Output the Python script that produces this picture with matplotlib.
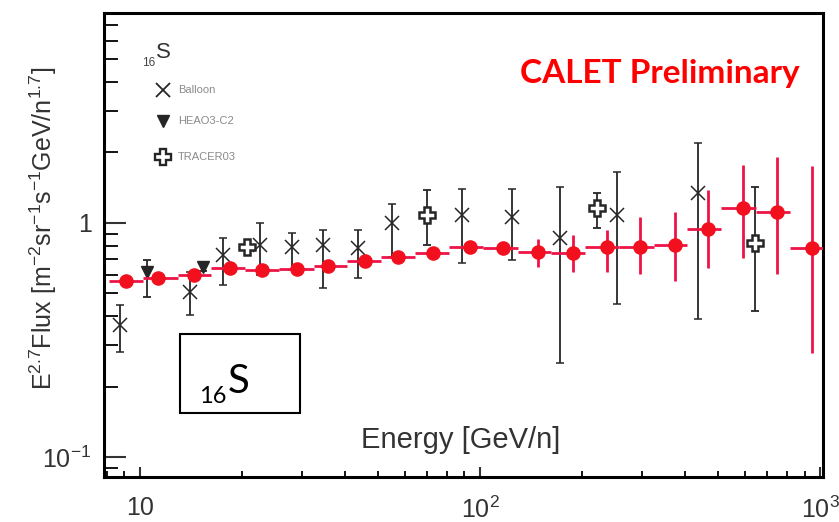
import numpy as np
import matplotlib
matplotlib.use("Agg")
import matplotlib.pyplot as plt
from matplotlib.patches import Rectangle
from matplotlib.ticker import FixedLocator, NullFormatter, LogLocator

plt.rcParams['font.family'] = ['Liberation Sans', 'DejaVu Sans']
plt.rcParams['mathtext.fontset'] = 'custom'
plt.rcParams['mathtext.rm'] = 'Liberation Sans'
plt.rcParams['mathtext.it'] = 'Liberation Sans:italic'
plt.rcParams['mathtext.bf'] = 'Liberation Sans:bold'

# ---- CALET sulfur (E^2.7 x flux), energy bins in GeV/n ----
calet_edges = [8.13, 10.2, 12.9, 16.2, 20.4, 25.7, 32.4, 40.7, 51.3, 64.6, 81.3,
               102, 129, 162, 204, 257, 324, 407, 513, 646, 813, 1023]
calet_e = [9.1, 11.3, 14.4, 18.4, 22.8, 29.0, 35.7, 45.9, 57.4, 72.6, 93.5,
           117, 148, 188, 236, 296, 374, 469, 592, 746, 948]
calet_f = [0.565, 0.582, 0.600, 0.642, 0.630, 0.636, 0.655, 0.688, 0.716, 0.744, 0.790,
           0.785, 0.752, 0.744, 0.790, 0.790, 0.805, 0.940, 1.160, 1.110, 0.780]
calet_lo = [0.545, 0.561, 0.579, 0.620, 0.608, 0.613, 0.630, 0.662, 0.686, 0.712, 0.752,
            0.745, 0.648, 0.617, 0.617, 0.605, 0.565, 0.642, 0.709, 0.605, 0.278]
calet_hi = [0.586, 0.604, 0.622, 0.665, 0.653, 0.660, 0.681, 0.716, 0.748, 0.778, 0.830,
            0.828, 0.855, 0.889, 0.934, 1.061, 1.114, 1.384, 1.770, 1.915, 1.752]

# ---- Balloon ----
balloon_e = [8.73, 14.0, 17.5, 22.5, 28.0, 34.5, 43.7, 55.1, 88.5, 124, 172, 253, 437]
balloon_f = [0.367, 0.507, 0.730, 0.805, 0.790, 0.805, 0.782, 1.000, 1.082, 1.061, 0.863, 1.082, 1.343]
balloon_lo = [0.281, 0.404, 0.543, 0.600, 0.630, 0.527, 0.580, 0.716, 0.675, 0.695, 0.252, 0.451, 0.389]
balloon_hi = [0.446, 0.617, 0.863, 1.000, 0.906, 0.934, 0.934, 1.206, 1.397, 1.397, 1.425, 1.650, 2.200]

# ---- HEAO3-C2 ----
heao_e = [10.5, 15.3]
heao_f = [0.617, 0.649]
heao_lo = [0.483, 0.625]
heao_hi = [0.695, 0.672]

# ---- TRACER ----
tracer_e = [20.7, 69.8, 221, 644]
tracer_f = [0.790, 1.082, 1.159, 0.821]
tracer_lo = [0.770, 0.805, 0.952, 0.421]
tracer_hi = [0.810, 1.383, 1.343, 1.425]

W, H = 839, 522
fig = plt.figure(figsize=(W / 100, H / 100), dpi=100)
fig.patch.set_facecolor('white')


def fx(px):
    return px / W


def fy(py):
    return 1 - py / H


ax = fig.add_axes([fx(104), fy(477), fx(823) - fx(104), fy(13) - fy(477)])
ax.set_xscale('log')
ax.set_yscale('log')
ax.set_xlim(7.84, 1020)
ax.set_ylim(0.0821, 7.89)

black = '#262626'


def asym(f, lo, hi):
    f, lo, hi = map(np.asarray, (f, lo, hi))
    return [f - lo, hi - f]


# other experiments
ax.errorbar(balloon_e, balloon_f, yerr=asym(balloon_f, balloon_lo, balloon_hi),
            fmt='x', color=black, ms=10, mew=1.1, elinewidth=1.3, capsize=3,
            capthick=1.3, zorder=2)
ax.errorbar(heao_e, heao_f, yerr=asym(heao_f, heao_lo, heao_hi),
            fmt='v', color=black, ms=8, elinewidth=1.3, capsize=3,
            capthick=1.3, zorder=2)
ax.errorbar(tracer_e, tracer_f, yerr=asym(tracer_f, tracer_lo, tracer_hi),
            fmt='none', ecolor=black, elinewidth=1.3, capsize=3,
            capthick=1.3, zorder=2)

# CALET
edges = np.asarray(calet_edges)
ce = np.asarray(calet_e)
xerr = [ce - edges[:-1], edges[1:] - ce]
ax.errorbar(calet_e, calet_f, xerr=xerr, yerr=asym(calet_f, calet_lo, calet_hi),
            fmt='o', color='#f2101e', ecolor='#ec1446', ms=10.5, mew=0,
            elinewidth=2.0, capsize=4.5, capthick=2.0, zorder=3)

ax.plot(tracer_e, tracer_f, 'P', ms=12, mfc='white', mec=black, mew=1.8,
        linestyle='none', zorder=4)

# axes styling
for s in ax.spines.values():
    s.set_linewidth(2.2)
    s.set_color('black')
ax.xaxis.set_major_locator(FixedLocator([10, 100, 1000]))
ax.xaxis.set_minor_locator(LogLocator(base=10, subs=np.arange(2, 10)))
ax.xaxis.set_minor_formatter(NullFormatter())
ax.set_xticklabels(['10', r'$10^{2}$', r'$10^{3}$'])
ax.yaxis.set_major_locator(FixedLocator([0.1, 1]))
ax.yaxis.set_minor_locator(LogLocator(base=10, subs=np.arange(2, 10)))
ax.yaxis.set_minor_formatter(NullFormatter())
ax.set_yticklabels([r'$10^{-1}$', '1'])
ax.tick_params(axis='x', which='major', direction='in', length=7, width=1.5,
               pad=14, labelsize=18, colors='#333333', top=False)
ax.tick_params(axis='x', which='minor', direction='in', length=4, width=1.3, top=False)
ax.tick_params(axis='y', which='major', direction='in', length=16, width=1.5,
               pad=9, labelsize=18, colors='#333333', right=False)
ax.tick_params(axis='y', which='minor', direction='in', length=10, width=1.3, right=False)
for t in ax.get_xticklines() + ax.get_yticklines():
    t.set_color('black')

# axis titles
fig.text(fx(461), fy(440), 'Energy [GeV/n]', ha='center', va='center',
         fontsize=21, color='#333333')
fig.text(fx(43), fy(228),
         r'E$^{2.7}$Flux [m$^{-2}$sr$^{-1}$s$^{-1}$GeV/n$^{1.7}$]',
         rotation=90, ha='center', va='center', fontsize=18, color='#333333')

# legend block
fig.text(fx(142), fy(66), '16', fontsize=8.5, color='#444444', ha='left', va='baseline')
fig.text(fx(156), fy(58), 'S', fontsize=16, color='#333333', ha='left', va='baseline')
leg_y = [90, 121, 157]
leg_txt = ['Balloon', 'HEAO3-C2', 'TRACER03']
ax.plot([fx(163)], [fy(leg_y[0])], 'x', transform=fig.transFigure, ms=10, mew=1.3,
        color=black, clip_on=False)
ax.plot([fx(163)], [fy(leg_y[1])], 'v', transform=fig.transFigure, ms=8,
        color=black, clip_on=False)
ax.plot([fx(163)], [fy(leg_y[2])], 'P', transform=fig.transFigure, ms=11,
        mfc='white', mec=black, mew=1.7, clip_on=False)
for yy, tt in zip(leg_y, leg_txt):
    fig.text(fx(178), fy(yy), tt, fontsize=8, color='#8a8a8a', ha='left', va='center')

# CALET label
fig.text(fx(800), fy(73), 'CALET Preliminary', fontsize=24, fontweight='bold',
         family='Lato', color='#ff0000', ha='right', va='center')

# element tag
fig.patches.append(Rectangle((fx(180), fy(413)), fx(300) - fx(180), fy(334) - fy(413),
                             transform=fig.transFigure, fill=True, facecolor='white',
                             edgecolor='black', linewidth=1.5, zorder=5))
fig.text(fx(199), fy(403), '16', fontsize=17, family='Lato', color='black',
         ha='left', va='baseline', zorder=6)
fig.text(fx(228), fy(393), 'S', fontsize=29, family='Lato', color='black',
         ha='left', va='baseline', zorder=6)

fig.savefig('out.png', dpi=100, facecolor='white')
